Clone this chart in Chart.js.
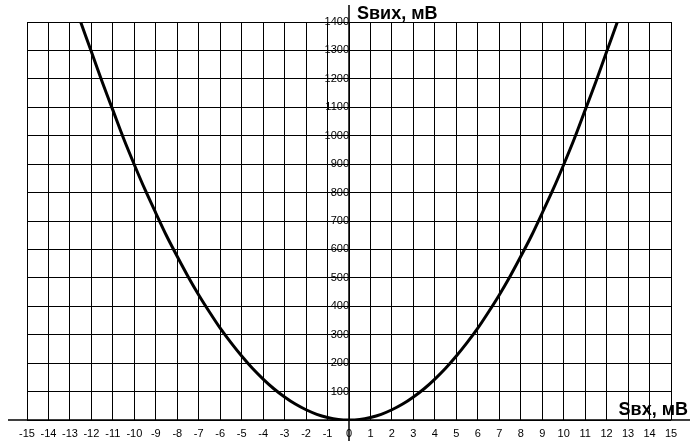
<!DOCTYPE html>
<html>
<head>
<meta charset="utf-8">
<script src="https://cdn.jsdelivr.net/npm/chart.js@4/dist/chart.umd.min.js"></script>
<style>
html,body{margin:0;padding:0;background:#fff;}
#wrap{width:690px;height:441px;}
</style>
</head>
<body>
<div id="wrap"><canvas id="c" width="690" height="441"></canvas></div>
<script>
const xValues = [-12.5,-12,-11.5,-11,-10.5,-10,-9.5,-9,-8.5,-8,-7.5,-7,-6.5,-6,-5.5,-5,-4.5,-4,-3.5,-3,-2.5,-2,-1.5,-1,-0.5,0,
                 0.5,1,1.5,2,2.5,3,3.5,4,4.5,5,5.5,6,6.5,7,7.5,8,8.5,9,9.5,10,10.5,11,11.5,12,12.5];
const yValues = [1400,1295,1190,1090,990,898,810,728,648,575,505,440,380,323,272,225,182,144,110,81,56,36,20,9,2,0,
                 2,9,20,36,56,81,110,144,182,225,272,323,380,440,505,575,648,728,810,898,990,1090,1190,1295,1400];
const xTickValues = [-15,-14,-13,-12,-11,-10,-9,-8,-7,-6,-5,-4,-3,-2,-1,0,1,2,3,4,5,6,7,8,9,10,11,12,13,14,15];
const yTickValues = [100,200,300,400,500,600,700,800,900,1000,1100,1200,1300,1400];
const xTitle = 'Sвх, мВ';
const yTitle = 'Sвих, мВ';

const points = xValues.map((x, i) => ({x: x, y: yValues[i]}));

const axesPlugin = {
  id: 'axesPlugin',
  beforeDatasetsDraw(chart) {
    const ctx = chart.ctx;
    const xs = chart.scales.x, ys = chart.scales.y;
    const x0 = xs.getPixelForValue(0), y0 = ys.getPixelForValue(0);
    ctx.save();
    ctx.strokeStyle = '#000';
    ctx.lineWidth = 1.5;
    ctx.beginPath();
    ctx.moveTo(8, y0); ctx.lineTo(690, y0);
    ctx.moveTo(x0, 5); ctx.lineTo(x0, 441);
    ctx.stroke();
    ctx.restore();
  },
  afterDraw(chart) {
    const ctx = chart.ctx;
    const xs = chart.scales.x, ys = chart.scales.y;
    const x0 = xs.getPixelForValue(0), y0 = ys.getPixelForValue(0);
    ctx.save();
    ctx.fillStyle = '#000';
    ctx.font = 'bold 18px "Liberation Sans", Arial, sans-serif';
    ctx.textBaseline = 'alphabetic';
    ctx.textAlign = 'left';
    ctx.fillText(yTitle, x0 + 8, ys.getPixelForValue(1400) - 3);
    ctx.textAlign = 'right';
    ctx.fillText(xTitle, 688, y0 - 5);
    ctx.restore();
  }
};

new Chart(document.getElementById('c'), {
  type: 'scatter',
  data: {
    datasets: [{
      data: points,
      showLine: true,
      borderColor: '#000',
      borderWidth: 3,
      pointRadius: 0,
      tension: 0.3,
      fill: false
    }]
  },
  options: {
    responsive: false,
    devicePixelRatio: 1,
    animation: false,
    layout: { padding: { left: 27, right: 19, top: 22, bottom: 21 } },
    plugins: { legend: { display: false }, tooltip: { enabled: false } },
    scales: {
      x: {
        type: 'linear',
        min: -15, max: 15,
        position: { y: 0 },
        afterBuildTicks: (s) => { s.ticks = xTickValues.map(v => ({value: v})); },
        grid: { color: '#000', lineWidth: 1, drawTicks: false },
        border: { display: false },
        ticks: {
          color: '#000',
          padding: 7,
          maxRotation: 0,
          autoSkip: false,
          font: { family: '"Liberation Sans", Arial, sans-serif', size: 11 },
          callback: (v) => String(v)
        }
      },
      y: {
        type: 'linear',
        min: 0, max: 1400,
        position: { x: 0 },
        afterBuildTicks: (s) => { s.ticks = [0].concat(yTickValues).map(v => ({value: v})); },
        grid: { color: '#000', lineWidth: 1, drawTicks: false },
        border: { display: false },
        ticks: {
          color: '#000',
          padding: 4,
          autoSkip: false,
          font: { family: '"Liberation Sans", Arial, sans-serif', size: 11 },
          callback: (v) => (v === 0 ? '' : String(v))
        }
      }
    }
  },
  plugins: [axesPlugin]
});
</script>
</body>
</html>
